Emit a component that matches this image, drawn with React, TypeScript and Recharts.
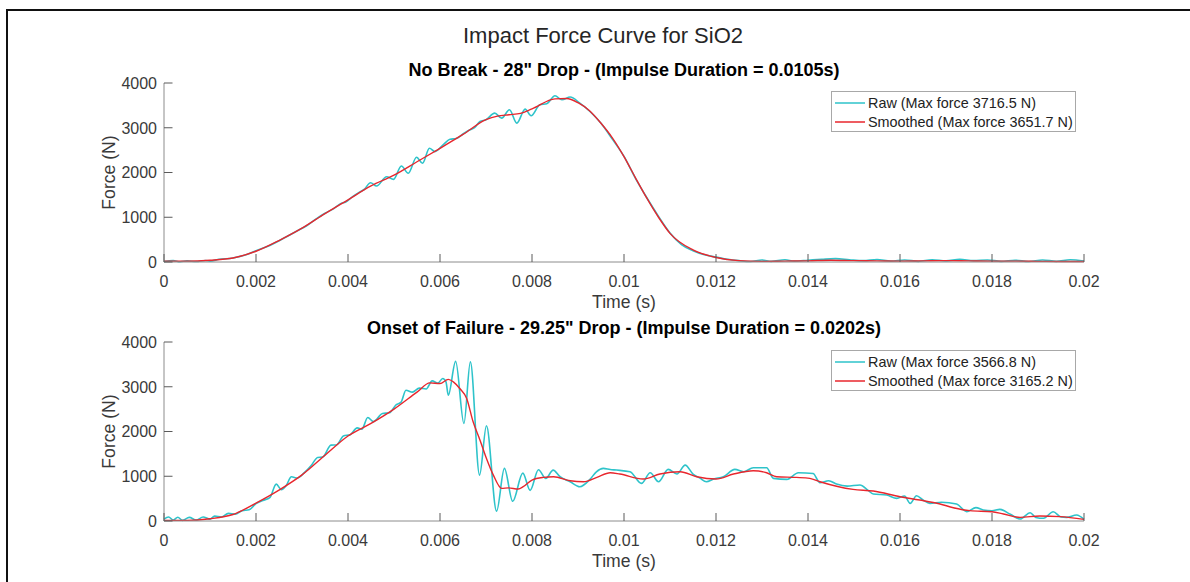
import React from 'react';
import { LineChart, Line, XAxis, YAxis, Legend } from 'recharts';

// times in ms, forces in N
const TOP_SMOOTH_MS = [0, 0.5, 1, 1.5, 2, 2.5, 3, 3.5, 4, 4.5, 5, 5.5, 6, 6.5, 7, 7.25, 7.5, 7.75, 8, 8.5, 8.75, 9, 9.25, 9.5, 9.75, 10, 10.25, 10.5, 10.75, 11, 11.5, 12, 12.5, 13, 13.5, 14, 14.5, 15, 15.5, 16, 16.5, 17, 17.5, 18, 18.5, 19, 19.5, 20];
const TOP_SMOOTH_F = [20, 20, 40, 90, 240, 480, 755, 1080, 1390, 1700, 1940, 2240, 2540, 2850, 3180, 3260, 3290, 3320, 3420, 3645, 3652, 3560, 3380, 3100, 2770, 2355, 1880, 1420, 1000, 640, 270, 100, 30, 15, 20, 25, 40, 30, 25, 20, 25, 30, 25, 20, 20, 15, 10, 10];

const TOP_RAW_MS = [0, 0.2, 0.35, 0.5, 0.7, 0.9, 1, 1.2, 1.5, 1.8, 2, 2.3, 2.6, 2.9, 3.1, 3.3, 3.5, 3.7, 3.85, 3.95, 4.1, 4.25, 4.35, 4.49, 4.62, 4.84, 4.99, 5.16, 5.31, 5.49, 5.62, 5.77, 5.89, 6.05, 6.22, 6.35, 6.5, 6.62, 6.75, 6.87, 7, 7.19, 7.34, 7.51, 7.67, 7.85, 7.98, 8.17, 8.32, 8.5, 8.65, 8.83, 9.04, 9.26, 9.5, 9.75, 10, 10.25, 10.5, 10.75, 11, 11.25, 11.5, 11.75, 12, 12.25, 12.5, 12.75, 13, 13.2, 13.5, 13.7, 14, 14.3, 14.6, 14.9, 15.2, 15.5, 15.8, 16.1, 16.4, 16.7, 17, 17.3, 17.6, 17.9, 18.2, 18.5, 18.8, 19.1, 19.4, 19.7, 20];
const TOP_RAW_F = [10, 30, 5, 25, 10, 35, 20, 60, 90, 170, 250, 370, 530, 700, 810, 960, 1090, 1200, 1310, 1340, 1460, 1560, 1620, 1771, 1697, 1906, 1847, 2146, 1982, 2340, 2206, 2542, 2466, 2600, 2744, 2760, 2860, 2937, 3000, 3139, 3180, 3327, 3215, 3401, 3103, 3417, 3267, 3513, 3536, 3716, 3625, 3686, 3550, 3363, 3100, 2740, 2360, 1870, 1430, 1020, 650, 390, 250, 160, 110, 60, 30, 10, 45, 15, 50, 20, 40, 60, 75, 50, 30, 55, 20, 45, 15, 50, 25, 60, 30, 45, 15, 40, 10, 45, 15, 50, 20];

const BOT_SMOOTH_MS = [0, 0.5, 1, 1.5, 2, 2.5, 3, 3.5, 4, 4.5, 5, 5.5, 5.78, 6, 6.18, 6.29, 6.43, 6.58, 6.72, 6.87, 7.01, 7.16, 7.34, 7.49, 7.7, 7.81, 8, 8.25, 8.47, 8.83, 9.12, 9.41, 9.7, 9.91, 10.42, 10.78, 11.22, 11.58, 12, 12.38, 12.81, 13.1, 13.32, 13.75, 14.04, 14.26, 14.98, 15.42, 16, 16.43, 16.87, 17.16, 17.52, 18, 18.25, 18.61, 19.04, 19.48, 20];
const BOT_SMOOTH_F = [15, 15, 50, 145, 400, 690, 1030, 1470, 1900, 2180, 2500, 2880, 3086, 3071, 3165, 3109, 2960, 2737, 2216, 1807, 1398, 1026, 729, 740, 714, 766, 915, 974, 989, 900, 878, 974, 1078, 1049, 937, 1049, 1101, 989, 937, 1049, 1123, 1078, 989, 974, 952, 878, 707, 669, 543, 468, 379, 297, 231, 208, 156, 82, 112, 97, 37];

const BOT_RAW_MS = [0, 0.1, 0.2, 0.3, 0.4, 0.55, 0.7, 0.85, 1, 1.1, 1.25, 1.4, 1.55, 1.7, 1.85, 2, 2.15, 2.3, 2.44, 2.55, 2.65, 2.77, 2.9, 3.05, 3.2, 3.34, 3.45, 3.63, 3.75, 3.9, 4.05, 4.2, 4.3, 4.43, 4.55, 4.75, 4.9, 5.05, 5.15, 5.26, 5.4, 5.55, 5.7, 5.83, 5.95, 6.06, 6.13, 6.18, 6.34, 6.52, 6.66, 6.86, 7.01, 7.23, 7.4, 7.58, 7.8, 7.96, 8.14, 8.3, 8.46, 8.61, 8.83, 9.04, 9.26, 9.4, 9.55, 9.7, 9.84, 10.13, 10.38, 10.57, 10.75, 10.96, 11.15, 11.33, 11.5, 11.65, 11.79, 11.95, 12.16, 12.41, 12.6, 12.81, 13.1, 13.25, 13.54, 13.79, 14.11, 14.26, 14.45, 14.62, 14.85, 15.13, 15.3, 15.42, 15.71, 15.93, 16.1, 16.22, 16.36, 16.5, 16.65, 16.9, 17.23, 17.45, 17.65, 17.81, 18, 18.17, 18.4, 18.61, 18.83, 18.95, 19.12, 19.33, 19.5, 19.62, 19.84, 20];
const BOT_RAW_F = [40, 90, 20, 85, 15, 80, 20, 90, 40, 110, 90, 170, 150, 230, 250, 390, 460, 520, 825, 700, 780, 989, 960, 1080, 1240, 1420, 1430, 1696, 1700, 1900, 1930, 2080, 2050, 2313, 2220, 2402, 2420, 2600, 2650, 2923, 2880, 2970, 2950, 3131, 3080, 3183, 3109, 2811, 3567, 2179, 3555, 1026, 2130, 220, 1175, 440, 1070, 685, 1145, 952, 1138, 989, 878, 766, 930, 1100, 1175, 1150, 1138, 1100, 840, 1078, 878, 1153, 1050, 1249, 1049, 960, 878, 940, 989, 1153, 1100, 1190, 1190, 952, 930, 1078, 1063, 855, 900, 825, 780, 803, 690, 602, 580, 506, 560, 394, 565, 470, 394, 420, 379, 208, 300, 245, 230, 260, 150, 45, 186, 80, 60, 208, 90, 82, 134, 37];

const X_TICKS = [0, 0.002, 0.004, 0.006, 0.008, 0.01, 0.012, 0.014, 0.016, 0.018, 0.02];
const Y_TICKS = [0, 1000, 2000, 3000, 4000];

const PANELS = [
  {
    title: 'No Break - 28" Drop - (Impulse Duration = 0.0105s)',
    rawName: 'Raw (Max force 3716.5 N)',
    smoothName: 'Smoothed (Max force 3651.7 N)',
    rawMs: TOP_RAW_MS, rawF: TOP_RAW_F, smoothMs: TOP_SMOOTH_MS, smoothF: TOP_SMOOTH_F,
  },
  {
    title: 'Onset of Failure - 29.25" Drop - (Impulse Duration = 0.0202s)',
    rawName: 'Raw (Max force 3566.8 N)',
    smoothName: 'Smoothed (Max force 3165.2 N)',
    rawMs: BOT_RAW_MS, rawF: BOT_RAW_F, smoothMs: BOT_SMOOTH_MS, smoothF: BOT_SMOOTH_F,
  },
];

const RAW_COLOR = '#2ec3ca';
const SMOOTH_COLOR = '#e8262d';
const AXIS_COLOR = '#8c8c8c';
const TICK_COLOR = '#5a5a5a';
const TEXT_COLOR = '#3a3a3a';
const FONT = '"Liberation Sans", Arial, Helvetica, sans-serif';

const toRows = (ms: number[], f: number[]) => ms.map((m, i) => ({ t: m / 1000, f: f[i] }));

// MATLAB-style ticks: marks point into the plot
// eslint-disable-next-line @typescript-eslint/no-explicit-any
const XTick = (props: any) => {
  const { x, y, payload } = props;
  return (
    <g>
      <line x1={x} y1={y} x2={x} y2={y - 8} stroke={TICK_COLOR} />
      <text x={x} y={y + 24.5} textAnchor="middle" fontSize={16} fill={TEXT_COLOR}>
        {String(payload.value)}
      </text>
    </g>
  );
};

// eslint-disable-next-line @typescript-eslint/no-explicit-any
const YTick = (props: any) => {
  const { x, y, payload } = props;
  return (
    <g>
      <line x1={x} y1={y} x2={x + 8.5} y2={y} stroke={TICK_COLOR} />
      <text x={x - 7} y={y} dy="0.36em" textAnchor="end" fontSize={16} fill={TEXT_COLOR}>
        {payload.value}
      </text>
    </g>
  );
};

// eslint-disable-next-line @typescript-eslint/no-explicit-any
const TimeLabel = (props: any) => {
  const { viewBox } = props;
  return (
    <text x={viewBox.x + viewBox.width / 2} y={viewBox.y + 46} textAnchor="middle" fontSize={17.6} fill={TEXT_COLOR}>
      Time (s)
    </text>
  );
};

// eslint-disable-next-line @typescript-eslint/no-explicit-any
const ForceLabel = (props: any) => {
  const { viewBox } = props;
  const lx = viewBox.x + 11;
  const cy = viewBox.y + viewBox.height / 2;
  return (
    <text x={lx} y={cy} transform={`rotate(-90, ${lx}, ${cy})`} textAnchor="middle" fontSize={17.6} fill={TEXT_COLOR}>
      Force (N)
    </text>
  );
};

// eslint-disable-next-line @typescript-eslint/no-explicit-any
const LegendBox = (props: any) => {
  const items = props.payload || [];
  return (
    <div style={{ width: 245, height: 41, boxSizing: 'border-box', border: '1px solid #a8a8a8', background: '#fff' }}>
      <svg width={243} height={39} style={{ display: 'block' }}>
        {items.map((it: any, i: number) => (
          <g key={it.value}>
            <line x1={3} x2={33} y1={11 + i * 19} y2={11 + i * 19} stroke={it.color} strokeWidth={1.5} />
            <text x={36} y={16 + i * 19} fontSize={14.4} fill="#222">{it.value}</text>
          </g>
        ))}
      </svg>
    </div>
  );
};

const Panel: React.FC<{ panel: typeof PANELS[number]; top: number; marginTop: number }> = ({ panel, top, marginTop }) => {
  const raw = toRows(panel.rawMs, panel.rawF);
  const smooth = toRows(panel.smoothMs, panel.smoothF);
  const height = 320;
  const plotBottom = marginTop + 179;
  return (
    <div style={{ position: 'absolute', left: 0, top, width: 1190, height }}>
      <LineChart width={1190} height={height} margin={{ top: marginTop, right: 106, bottom: height - plotBottom - 40, left: 104 }}>
        <XAxis
          dataKey="t"
          type="number"
          domain={[0, 0.02]}
          ticks={X_TICKS}
          interval={0}
          height={40}
          tickSize={0}
          tickMargin={0}
          tickLine={false}
          axisLine={{ stroke: AXIS_COLOR }}
          tick={<XTick />}
          label={<TimeLabel />}
        />
        <YAxis
          type="number"
          domain={[0, 4000]}
          ticks={Y_TICKS}
          interval={0}
          width={60}
          tickSize={0}
          tickMargin={0}
          tickLine={false}
          axisLine={{ stroke: AXIS_COLOR }}
          tick={<YTick />}
          label={<ForceLabel />}
        />
        <Legend
          layout="vertical"
          align="center"
          verticalAlign="middle"
          wrapperStyle={{ left: 831, top: marginTop + 7.5, width: 245 }}
          content={<LegendBox />}
        />
        <Line
          data={raw}
          dataKey="f"
          name={panel.rawName}
          type="monotone"
          stroke={RAW_COLOR}
          strokeWidth={1.6}
          dot={false}
          activeDot={false}
          isAnimationActive={false}
        />
        <Line
          data={smooth}
          dataKey="f"
          name={panel.smoothName}
          type="monotone"
          stroke={SMOOTH_COLOR}
          strokeWidth={1.4}
          dot={false}
          activeDot={false}
          isAnimationActive={false}
        />
      </LineChart>
    </div>
  );
};

export default function App() {
  return (
    <div style={{ position: 'absolute', left: 0, top: 0, width: 1190, height: 582, background: '#fff', overflow: 'hidden', fontFamily: FONT }}>
      <div style={{ position: 'absolute', left: 6, top: 9, width: 1400, height: 800, borderLeft: '2px solid #111', borderTop: '2px solid #111' }} />
      <Panel panel={PANELS[0]} top={0} marginTop={83} />
      <Panel panel={PANELS[1]} top={260} marginTop={82} />
      <svg width={1190} height={582} style={{ position: 'absolute', left: 0, top: 0, pointerEvents: 'none' }}>
        <text x={603} y={43} textAnchor="middle" fontSize={22} fill="#262626">Impact Force Curve for SiO2</text>
        <text x={624} y={76} textAnchor="middle" fontSize={18} fontWeight="bold" fill="#000">{PANELS[0].title}</text>
        <text x={624} y={334} textAnchor="middle" fontSize={18} fontWeight="bold" fill="#000">{PANELS[1].title}</text>
      </svg>
    </div>
  );
}
